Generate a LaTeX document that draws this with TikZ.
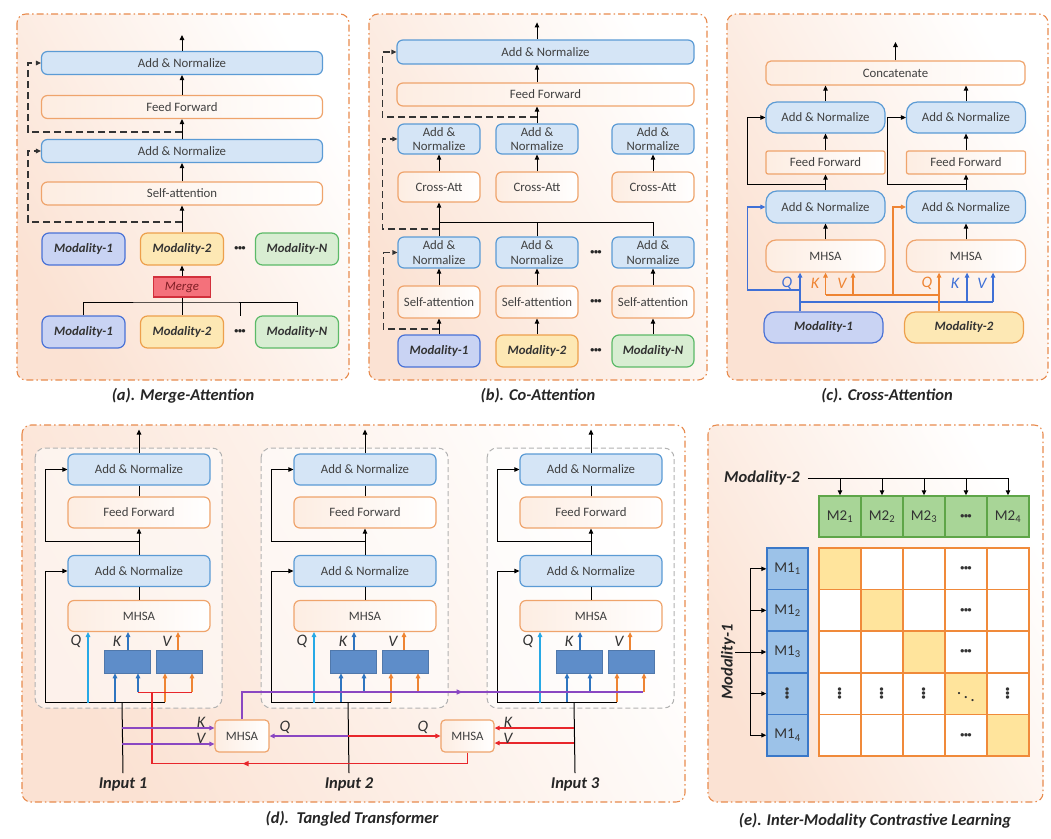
\documentclass[tikz,border=0pt]{standalone}
\usepackage{fontspec}
\setmainfont{Carlito}
\usepackage{amsmath}
\usepackage{graphicx}
\usetikzlibrary{arrows.meta,decorations.markings}

\definecolor{panelline}{HTML}{E88B4E}
\definecolor{panelfill}{HTML}{FBE2D3}
\definecolor{anline}{HTML}{5B9BD5}
\definecolor{anfill}{HTML}{D5E5F6}
\definecolor{ffline}{HTML}{EFA46C}
\definecolor{fffill}{HTML}{FDEDE2}
\definecolor{monefill}{HTML}{C9D3F3}
\definecolor{moneline}{HTML}{4A72D6}
\definecolor{mtwofill}{HTML}{FDE8B4}
\definecolor{mtwoline}{HTML}{EDA04C}
\definecolor{mnfill}{HTML}{D8EDD2}
\definecolor{mnline}{HTML}{5CBA68}
\definecolor{mergefill}{HTML}{F4717B}
\definecolor{mergeline}{HTML}{D2303C}
\definecolor{qblue}{HTML}{27A9E6}
\definecolor{kblue}{HTML}{2F75C0}
\definecolor{vorange}{HTML}{EE8433}
\definecolor{projfill}{HTML}{5E8DC9}
\definecolor{tred}{HTML}{E8262B}
\definecolor{tpurple}{HTML}{8A47C2}
\definecolor{cblue}{HTML}{3F70D6}
\definecolor{gridline}{HTML}{F08A3A}
\definecolor{diagfill}{HTML}{FFE49C}
\definecolor{mtwocell}{HTML}{A8D597}
\definecolor{mtwocellline}{HTML}{5EA548}
\definecolor{monecell}{HTML}{9CC2E8}
\definecolor{monecellline}{HTML}{3A78C8}

\newcommand{\boxfont}{\fontsize{12.8}{14.5}\selectfont}
\newcommand{\capfont}{\fontsize{16.5}{18}\selectfont\bfseries\itshape}
\newcommand{\qkvfont}{\fontsize{16}{18}\selectfont\itshape}
\newcommand{\hdotsb}{{\fontsize{8}{8}\selectfont\bfseries\textbullet\kern-0.3pt\textbullet\kern-0.3pt\textbullet}}
\newcommand{\vdotsb}{\rotatebox{90}{\hdotsb}}
\newcommand{\ddotsb}{\scalebox{1.2}{\boldmath$\ddots$}}

\tikzset{
  panel/.style={draw=panelline, line width=1.1pt, dash pattern=on 7pt off 3pt on 1.5pt off 3pt,
    rounded corners=9pt, left color=panelfill, right color=white, shading angle=120},
  box/.style={line width=1.2pt, inner sep=0pt, rounded corners=6pt, font=\boxfont, align=center, text=black!75},
  anbox/.style={box, draw=anline, fill=anfill},
  ffbox/.style={box, draw=ffline, left color=fffill, right color=white},
  modbox/.style={box, font=\boxfont\bfseries\itshape, text=black!80, minimum height=32pt, rounded corners=7pt},
  modone/.style={modbox, draw=moneline, fill=monefill},
  modtwo/.style={modbox, draw=mtwoline, fill=mtwofill},
  modn/.style={modbox, draw=mnline, fill=mnfill},
  dots/.style={inner sep=0pt, text=black!85},
  lbl/.style={font=\qkvfont, inner sep=0pt},
  captext/.style={font=\capfont, text=black!85, inner sep=0pt},
  arr/.style={line width=1pt, -{Triangle[length=5pt,width=4.5pt]}},
  plain/.style={line width=1pt},
  skipd/.style={arr, line width=1.2pt, dash pattern=on 7pt off 4pt, draw=black!80},
  tline/.style={line width=1.2pt},
  qarr/.style={arr, line width=1.2pt, draw=qblue},
  karr/.style={arr, line width=1.2pt, draw=kblue},
  varr/.style={arr, line width=1.2pt, draw=vorange},
  parr/.style={arr, line width=1.2pt, draw=tpurple},
  rarr/.style={arr, line width=1.2pt, draw=tred},
  barr/.style={arr, line width=1.2pt, draw=cblue},
  oarr/.style={arr, line width=1.2pt, draw=vorange},
  tmark/.style={postaction={decorate, decoration={markings, mark=at position #1 with {\arrow{Triangle[length=6pt,width=5pt]}}}}},
  blockbox/.style={draw=black!30, dash pattern=on 5pt off 3pt, line width=1pt, rounded corners=10pt, fill=white, fill opacity=0.55},
  proj/.style={fill=projfill, draw=projfill!85!black, line width=0.5pt, minimum width=46pt, minimum height=23pt, inner sep=0pt},
  cellbox/.style={line width=1.5pt, inner sep=0pt, minimum width=42pt, minimum height=41.6pt, font=\fontsize{15}{16}\selectfont, text=black!80},
}

\begin{document}
\begin{tikzpicture}[x=1pt,y=-1pt]
  \useasboundingbox (0,0) rectangle (1051,838);
  \fill[white] (0,0) rectangle (1051,838);

  % (a) merge-attention
  \draw[panel] (17,14) rectangle (349,380);
  \node[anbox, minimum width=281pt, minimum height=23pt] (a-an2) at (182,63) {Add \& Normalize};
  \node[ffbox, minimum width=281pt, minimum height=23pt] (a-ff) at (182,107) {Feed Forward};
  \node[anbox, minimum width=281pt, minimum height=23pt] (a-an1) at (182,151) {Add \& Normalize};
  \node[ffbox, minimum width=281pt, minimum height=23pt] (a-sa) at (182,193.5) {Self-attention};
  \foreach \y/\r in {249/t,332/b}
  {
    \node[modone, minimum width=83pt] (a-m1\r) at (83.5,\y) {Modality-1};
    \node[modtwo, minimum width=83pt] (a-m2\r) at (182,\y) {Modality-2};
    \node[modn, minimum width=83pt] (a-mn\r) at (297,\y) {Modality-N};
    \node[dots] (a-d\r) at (240,\y) {\hdotsb};
  }
  \node[box, draw=mergeline, fill=mergefill, rounded corners=0pt, minimum width=57pt, minimum height=20pt,
    font=\boxfont\itshape, text=mergeline!60!black] (a-mg) at (182,287) {Merge};
  \coordinate (a-bus) at (182,302);
  \draw[plain] (a-m1b.north) |- (a-bus) -| (a-mnb.north);
  \draw[plain] (a-mg.south) -- (a-m2b.north);
  \draw[plain] (a-bus -| a-db) -- ++(0,14);
  \draw[arr] (a-mg) -- (a-m2t);
  \draw[arr] (a-m2t) -- (a-sa);
  \draw[arr] (a-sa) -- (a-an1);
  \draw[arr] (a-an1) -- (a-ff);
  \draw[arr] (a-ff) -- (a-an2);
  \draw[arr] (a-an2) -- ++(0,-28);
  \coordinate (a-s1) at (182,222);
  \coordinate (a-s2) at (182,132);
  \draw[skipd] (a-s1) -| ([xshift=-13pt]a-an1.west) -- (a-an1.west);
  \draw[skipd] (a-s2) -| ([xshift=-13pt]a-an2.west) -- (a-an2.west);
  \node[captext] (a-cap) at (183,396) {(a). Merge-Attention};

  % (b) co-attention
  \draw[panel] (369,14) rectangle (707,380);
  \node[anbox, minimum width=297pt, minimum height=24pt] (b-an) at (545.5,52) {Add \& Normalize};
  \node[ffbox, minimum width=297pt, minimum height=23pt] (b-ff) at (545.5,94.5) {Feed Forward};
  \foreach \x/\i/\s/\t in {439/1/modone/Modality-1,537/2/modtwo/Modality-2,653/3/modn/Modality-N}
  {
    \node[anbox, minimum width=82pt, minimum height=30pt] (b-an2-\i) at (\x,139) {Add \&\\Normalize};
    \node[ffbox, minimum width=82pt, minimum height=30pt] (b-ca-\i) at (\x,187) {Cross-Att};
    \node[anbox, minimum width=82pt, minimum height=31pt] (b-an1-\i) at (\x,252.5) {Add \&\\Normalize};
    \node[ffbox, minimum width=82pt, minimum height=32pt] (b-sa-\i) at (\x,302) {Self-attention};
    \node[\s, minimum width=82pt] (b-m-\i) at (\x,351) {\t};
    \draw[arr] (b-m-\i) -- (b-sa-\i);
    \draw[arr] (b-sa-\i) -- (b-an1-\i);
    \draw[arr] (b-ca-\i) -- (b-an2-\i);
  }
  \foreach \y [count=\j] in {252.5,302,351}
    \node[dots] (b-d-\j) at (596,\y) {\hdotsb};
  \coordinate (b-bus) at (439,222);
  \draw[plain] (b-bus) -| (b-an1-3.north);
  \draw[plain] (b-an1-2.north) -- (b-an1-2.north |- b-bus);
  \draw[arr] (b-an1-1) -- (b-ca-1);
  \draw[arr] (b-an2-2.north) -- (b-an2-2.north |- b-ff.south);
  \draw[arr] (b-ff.north -| b-an2-2) -- (b-an.south -| b-an2-2);
  \draw[arr] (b-an.north -| b-an2-2) -- ++(0,-17);
  \coordinate (b-s1) at (439,329);
  \coordinate (b-s2) at (439,229);
  \coordinate (b-s3) at (537,117);
  \draw[skipd] (b-s1) -| ([xshift=-14pt]b-an1-1.west) -- (b-an1-1.west);
  \draw[skipd] (b-s2) -| ([xshift=-15pt]b-an2-1.west) -- (b-an2-1.west);
  \draw[skipd] (b-s3) -| ([xshift=-14pt]b-an.west) -- (b-an.west);
  \node[captext] (b-cap) at (538,396) {(b). Co-Attention};

  % (c) cross-attention
  \draw[panel] (727,14) rectangle (1048,380);
  \node[ffbox, minimum width=259pt, minimum height=24pt, rounded corners=5pt] (c-cat) at (895.5,73) {Concatenate};
  \draw[arr] (c-cat) -- ++(0,-31);
  \foreach \x/\i in {825.5/1,966/2}
  {
    \node[anbox, minimum width=119pt, minimum height=31pt, rounded corners=11pt] (c-an2-\i) at (\x,117.5) {Add \& Normalize};
    \node[ffbox, minimum width=119pt, minimum height=23pt, rounded corners=2pt] (c-ff-\i) at (\x,162.5) {Feed Forward};
    \node[anbox, minimum width=119pt, minimum height=32pt, rounded corners=11pt] (c-an1-\i) at (\x,207) {Add \& Normalize};
    \node[ffbox, minimum width=119pt, minimum height=32pt, rounded corners=10pt] (c-mh-\i) at (\x,256) {MHSA};
    \draw[arr] (c-mh-\i) -- (c-an1-\i);
    \draw[arr] (c-an1-\i) -- (c-ff-\i);
    \draw[arr] (c-ff-\i) -- (c-an2-\i);
    \draw[arr] (c-an2-\i) -- (c-an2-\i.north |- c-cat.south);
    \draw[arr] ([yshift=-10pt]c-ff-\i.south) -| ([xshift=-18pt]c-an2-\i.west) -- (c-an2-\i.west);
  }
  \node[modone, minimum width=119pt, minimum height=31pt, rounded corners=11pt] (c-m1) at (823.5,327.5) {Modality-1};
  \node[modtwo, minimum width=119pt, minimum height=31pt, rounded corners=11pt] (c-m2) at (964,327.5) {Modality-2};
  \coordinate (c-bb) at (800,302);
  \coordinate (c-bk) at (967,302);
  \coordinate (c-bv) at (993,302);
  \coordinate (c-bs) at (800,290);
  \coordinate (c-ob) at (939,295);
  \coordinate (c-ok) at (825.5,295);
  \coordinate (c-ov) at (853,295);
  \coordinate (c-os) at (893,295);
  \draw[tline, draw=cblue] (c-m1.north -| c-bb) -- (c-bb) -- (c-bv);
  \draw[barr] (c-bb) -- (c-bb |- c-mh-1.south);
  \draw[barr] (c-bk) -- (c-bk |- c-mh-2.south);
  \draw[barr] (c-bv) -- (c-bv |- c-mh-2.south);
  \draw[barr] (c-bs) -| ([xshift=-18pt]c-an1-1.west) -- (c-an1-1.west);
  \draw[tline, draw=vorange] (c-m2.north -| c-ob) -- (c-ob) -- (c-ok);
  \draw[oarr] (c-ob) -- (c-ob |- c-mh-2.south);
  \draw[oarr] (c-ok) -- (c-mh-1.south);
  \draw[oarr] (c-ov) -- (c-ov |- c-mh-1.south);
  \draw[oarr] (c-os) |- (c-an1-2.west);
  \node[lbl, text=cblue] (c-q1) at (787,283) {Q};
  \node[lbl, text=vorange] (c-k1) at (815,283) {K};
  \node[lbl, text=vorange] (c-v1) at (842,283) {V};
  \node[lbl, text=vorange] (c-q2) at (927,283) {Q};
  \node[lbl, text=cblue] (c-k2) at (955,283) {K};
  \node[lbl, text=cblue] (c-v2) at (982,283) {V};
  \node[captext] (c-cap) at (887,396) {(c). Cross-Attention};

  % (d) tangled transformer
  \draw[panel] (22,425) rectangle (685,802);
  \foreach \c [count=\i] in {139,365,591}
  {
    \draw[blockbox] (\c-104,448) rectangle (\c+83,708);
    \node[anbox, minimum width=142pt, minimum height=31pt] (d-an2-\i) at (\c,469.5) {Add \& Normalize};
    \node[ffbox, minimum width=142pt, minimum height=31pt] (d-ff-\i) at (\c,512.5) {Feed Forward};
    \node[anbox, minimum width=142pt, minimum height=31pt] (d-an1-\i) at (\c,571) {Add \& Normalize};
    \node[ffbox, minimum width=142pt, minimum height=31pt] (d-mh-\i) at (\c,616) {MHSA};
    \node[proj] (d-pk-\i) at (\c-12,661.5) {};
    \node[proj] (d-pv-\i) at (\c+40,661.5) {};
    \coordinate (d-bus-\i) at (\c+26,702);
    \coordinate (d-in-\i) at (\c-17,702);
    \draw[plain] (d-mh-\i) -- (d-an1-\i);
    \draw[arr] (d-an1-\i) -- (d-ff-\i);
    \draw[plain] (d-ff-\i) -- (d-an2-\i);
    \draw[arr] (d-an2-\i) -- ++(0,-40);
    \draw[arr] ([yshift=13pt]d-an1-\i.north) -| ([xshift=-22pt]d-an2-\i.west) -- (d-an2-\i.west);
    \draw[arr] (d-bus-\i) -| ([xshift=-22pt]d-an1-\i.west) -- (d-an1-\i.west);
    \draw[qarr] ([xshift=-51pt,yshift=-70.5pt]d-mh-\i.south) -- ([xshift=-51pt]d-mh-\i.south);
    \draw[karr] ([xshift=1pt]d-pk-\i.north) -- ([xshift=1pt]d-pk-\i.north |- d-mh-\i.south);
    \draw[varr] ([xshift=-1pt]d-pv-\i.north) -- ([xshift=-1pt]d-pv-\i.north |- d-mh-\i.south);
    \draw[karr] ([xshift=-12pt,yshift=-29pt]d-pk-\i.south) -- ([xshift=-12pt]d-pk-\i.south);
    \draw[karr] ([xshift=11pt,yshift=-19pt]d-pk-\i.south) -- ([xshift=11pt]d-pk-\i.south);
    \draw[varr] ([xshift=-14pt,yshift=-29pt]d-pv-\i.south) -- ([xshift=-14pt]d-pv-\i.south);
    \draw[varr] ([xshift=13pt,yshift=-19pt]d-pv-\i.south) -- ([xshift=13pt]d-pv-\i.south);
    \node[lbl, text=black!80] (d-q-\i) at (\c-63,641) {Q};
    \node[lbl, text=black!80] (d-k-\i) at (\c-22,641) {K};
    \node[lbl, text=black!80] (d-v-\i) at (\c+28,641) {V};
    \node[captext] (d-inl-\i) at (\c-16,784) {Input \i};
    \draw[plain] (d-in-\i) -- ([yshift=4pt]d-inl-\i.north);
  }
  \node[ffbox, minimum width=54pt, minimum height=32pt, rounded corners=4pt] (d-mha) at (242,736) {MHSA};
  \node[ffbox, minimum width=53pt, minimum height=32pt, rounded corners=4pt] (d-mhb) at (467.5,736) {MHSA};
  \coordinate (d-pe) at (643,692);
  \coordinate (d-rc) at (152,692);
  \draw[tline, draw=tpurple, tmark=248pt] (d-mha.north) |- (d-pe);
  \draw[tline, draw=tred, tmark=236pt] (d-mhb.south) -- ++(0,11) -| (d-rc);
  \draw[tline, draw=tred] ([xshift=11pt,yshift=-19pt]d-pk-1.south) -- ([xshift=13pt,yshift=-19pt]d-pv-1.south);
  \coordinate (d-ka) at ([yshift=8pt]d-mha.west);
  \coordinate (d-va) at ([yshift=-8pt]d-mha.west);
  \coordinate (d-kb) at ([yshift=8pt]d-mhb.east);
  \coordinate (d-vb) at ([yshift=-7pt]d-mhb.east);
  \draw[parr] (d-in-1 |- d-ka) -- (d-ka);
  \draw[parr] (d-in-1 |- d-va) -- (d-va);
  \draw[parr] (d-in-2 |- d-mha.east) -- (d-mha.east);
  \draw[rarr] (d-in-2 |- d-mhb.west) -- (d-mhb.west);
  \draw[rarr] (d-in-3 |- d-kb) -- (d-kb);
  \draw[rarr] (d-in-3 |- d-vb) -- (d-vb);
  \node[lbl, text=black!80] (d-ka-l) at (201,722) {K};
  \node[lbl, text=black!80] (d-va-l) at (201,738) {V};
  \node[lbl, text=black!80] (d-qa-l) at (285,727) {Q};
  \node[lbl, text=black!80] (d-qb-l) at (423,727) {Q};
  \node[lbl, text=black!80] (d-kb-l) at (508,722) {K};
  \node[lbl, text=black!80] (d-vb-l) at (508,738) {V};
  \node[captext] (d-cap) at (352,819) {(d).\ \ Tangled Transformer};

  % (e) inter-modality contrastive learning
  \draw[panel] (708,425) rectangle (1043,802);
  \node[captext] (e-m2l) at (762,478) {Modality-2};
  \foreach \k/\t in {1/M2\textsubscript{1},2/M2\textsubscript{2},3/M2\textsubscript{3},4/\hdotsb,5/M2\textsubscript{4}}
    \node[cellbox, draw=mtwocellline, fill=mtwocell, minimum height=41pt] (e-m2-\k) at (\k*42+798,516.5) {\t};
  \draw[plain] ([xshift=8pt]e-m2l.east) -- (e-m2l -| e-m2-5);
  \foreach \k in {1,...,5}
    \draw[arr] (e-m2l -| e-m2-\k) -- (e-m2-\k.north);
  \foreach \r/\t in {1/M1\textsubscript{1},2/M1\textsubscript{2},3/M1\textsubscript{3},4/\vdotsb,5/M1\textsubscript{4}}
    \node[cellbox, draw=monecellline, fill=monecell, minimum width=41pt] (e-m1-\r) at (787.5,\r*41.6+527.2) {\t};
  \foreach \r in {1,...,5}
  {
    \foreach \k in {1,...,5}
    {
      \ifnum\r=\k \def\cf{diagfill}\else \def\cf{white}\fi
      \def\ct{}
      \ifnum\k=4 \def\ct{\hdotsb}\fi
      \ifnum\r=4 \def\ct{\vdotsb}\fi
      \ifnum\r=4 \ifnum\k=4 \def\ct{\ddotsb}\fi\fi
      \node[cellbox, draw=gridline, fill=\cf] (e-\r-\k) at (\k*42+798,\r*41.6+527.2) {\ct};
    }
  }
  \node[captext, rotate=90] (e-m1l) at (728,662) {Modality-1};
  \coordinate (e-sp) at (750,652);
  \draw[plain] (e-m1l.south |- e-sp) -- (e-sp);
  \draw[plain] (e-sp |- e-m1-1) -- (e-sp |- e-m1-5);
  \foreach \r in {1,...,5}
    \draw[arr] (e-sp |- e-m1-\r) -- (e-m1-\r.west);
  \node[captext] (e-cap) at (875,821) {(e). Inter-Modality Contrastive Learning};
\end{tikzpicture}
\end{document}
